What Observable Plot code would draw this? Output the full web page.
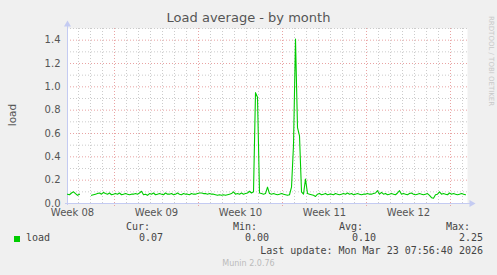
<!DOCTYPE html>
<html>
<head>
<meta charset="utf-8">
<script src="https://cdn.jsdelivr.net/npm/d3@7"></script>
<script src="https://cdn.jsdelivr.net/npm/@observablehq/plot@0.6"></script>
<style>
  html, body { margin: 0; padding: 0; background: #f0f0f0; }
  #wrap { position: relative; width: 497px; height: 275px; background: #f0f0f0; overflow: hidden; }
  #wrap svg { position: absolute; left: 0; top: 0; }
  .t { position: absolute; white-space: pre; }
  .title { font-family: "DejaVu Sans", sans-serif; font-size: 13px; color: #555; }
  .mono { font-family: "DejaVu Sans Mono", monospace; font-size: 10px; color: #444; }
  .ylab { font-family: "DejaVu Sans", sans-serif; font-size: 10.5px; color: #555; }
  .rrd { font-family: "DejaVu Sans", sans-serif; font-size: 7px; color: #c8c8c8; }
  .munin { font-family: "DejaVu Sans", sans-serif; font-size: 8px; color: #bbb; }
</style>
</head>
<body>
<div id="wrap"></div>
<script>
// ---- data ----
const seriesName = "load";
const stepHours = 4;
const startTime = Date.UTC(2026, 1, 19, 2);   // first sample
const endTime = Date.UTC(2026, 2, 24, 10);    // right edge of graph
const loadValues = [
  0.08, 0.075, 0.09, 0.10, 0.085, 0.07, 0.08,
  null, null, null, null, null,
  0.07, 0.075, 0.08, 0.085, 0.09, 0.08, 0.095, 0.085, 0.08, 0.09,
  0.075, 0.08, 0.085, 0.08, 0.09, 0.075, 0.08, 0.085, 0.08, 0.075,
  0.08, 0.08, 0.085, 0.08, 0.09, 0.105, 0.075, 0.08, 0.07, 0.085,
  0.08, 0.09, 0.075, 0.08, 0.085, 0.08, 0.075, 0.09, 0.08, 0.08,
  0.085, 0.075, 0.08, 0.09, 0.08, 0.075, 0.085, 0.08, 0.08, 0.075,
  0.085, 0.08, 0.08, 0.085, 0.09, 0.09, 0.085, 0.085, 0.08, 0.085,
  0.08, 0.08, 0.075, 0.07, 0.075, 0.07, 0.075, 0.07, 0.075, 0.08,
  0.085, 0.10, 0.08, 0.085, 0.08, 0.09, 0.08, 0.085, 0.09, 0.105,
  0.09,
  0.10, 0.95, 0.91, 0.09, 0.085, 0.08, 0.085,
  0.14,
  0.085, 0.08, 0.085, 0.08, 0.075, 0.08, 0.085, 0.08, 0.075, 0.07, 0.075,
  0.14, 0.5, 1.41, 0.65, 0.58, 0.10, 0.08,
  0.21,
  0.085, 0.08, 0.075, 0.07, 0.06, 0.08, 0.085, 0.075, 0.08, 0.085,
  0.075, 0.08, 0.08, 0.075, 0.085, 0.08, 0.075, 0.08, 0.085, 0.08,
  0.09, 0.08, 0.085, 0.075, 0.08, 0.085, 0.08, 0.075, 0.08, 0.08,
  0.085, 0.08, 0.08, 0.085, 0.09, 0.11, 0.08, 0.095, 0.08, 0.085,
  0.075, 0.08, 0.085, 0.08, 0.075, 0.09, 0.11, 0.08, 0.085, 0.08,
  0.075, 0.085, 0.09, 0.08, 0.075, 0.08, 0.085, 0.08, 0.075, 0.08,
  0.085, 0.07, 0.05, 0.045, 0.075, 0.08, 0.10, 0.08, 0.085, 0.08,
  0.075, 0.09, 0.08, 0.085, 0.08, 0.075, 0.08, 0.085, 0.08, 0.075
];
const weekLabels = ["Week 08", "Week 09", "Week 10", "Week 11", "Week 12"];
const weekStarts = [
  Date.UTC(2026, 1, 16), Date.UTC(2026, 1, 23), Date.UTC(2026, 2, 2),
  Date.UTC(2026, 2, 9), Date.UTC(2026, 2, 16), Date.UTC(2026, 2, 23)
];
const yTicks = [0, 0.2, 0.4, 0.6, 0.8, 1.0, 1.2, 1.4];
const yMinor = [0.1, 0.3, 0.5, 0.7, 0.9, 1.1, 1.3, 1.5];
const legendHeaders = ["Cur:", "Min:", "Avg:", "Max:"];
const legendValues = ["0.07", "0.00", "0.10", "2.25"];
const titleText = "Load average - by month";
const yLabel = "load";
const lastUpdate = "Last update: Mon Mar 23 07:56:40 2026";
const footer = "Munin 2.0.76";
const sideText = "RRDTOOL / TOBI OETIKER";

// ---- derived ----
const HOUR = 3600e3, DAY = 24 * HOUR;
const data = loadValues.map((v, i) => ({ t: new Date(startTime + i * stepHours * HOUR), v }));
const days = d3.range(Math.ceil((startTime) / DAY) * DAY, endTime, DAY)
  .filter(d => !weekStarts.includes(d)).map(d => new Date(d));
const weeks = weekStarts.filter(d => d >= startTime && d <= endTime).map(d => new Date(d));
const weekMids = weekStarts.slice(0, weekLabels.length).map(d => new Date(d + 3.5 * DAY));

const gridGray = "#cccccc";
const gridRed = "#e9a3a3";
const axisBlue = "#c4cbf2";

const plot = Plot.plot({
  width: 497, height: 275,
  marginLeft: 67, marginRight: 30, marginTop: 28, marginBottom: 72,
  style: { background: "transparent", fontFamily: "DejaVu Sans, sans-serif", fontSize: "10px", color: "#555" },
  x: { type: "utc", domain: [new Date(startTime), new Date(endTime)] },
  y: { domain: [0, 1.5] },
  marks: [
    Plot.frame({ fill: "white", stroke: null }),
    Plot.ruleY(yMinor, { stroke: gridGray, strokeDasharray: "1,2" }),
    Plot.ruleX(days, { stroke: gridGray, strokeDasharray: "1,2" }),
    Plot.ruleY(yTicks.filter(d => d > 0), { stroke: gridRed, strokeDasharray: "1,2" }),
    Plot.ruleX(weeks, { stroke: gridRed, strokeDasharray: "1,2", insetBottom: -3 }),
    Plot.axisY({ ticks: yTicks, tickFormat: d3.format(".1f"), tickSize: 0, tickPadding: 7, label: null, fill: "#555", fontSize: 10 }),
    Plot.axisX({ ticks: weekMids, tickFormat: (d, i) => weekLabels[i], tickSize: 0, tickPadding: 5, label: null, fill: "#555", fontSize: 10 }),
    Plot.ruleY([0], { stroke: axisBlue, insetLeft: -2, insetRight: -4 }),
    Plot.ruleX([new Date(startTime)], { stroke: axisBlue, insetTop: -4, insetBottom: -2 }),
    Plot.dot([{ x: new Date(startTime), y: 1.5 }], { x: "x", y: "y", symbol: "triangle", r: 2.6, fill: axisBlue, stroke: null, dy: -4 }),
    Plot.dot([{ x: new Date(endTime), y: 0 }], { x: "x", y: "y", symbol: "triangle", r: 2.6, fill: axisBlue, stroke: null, dx: 4, rotate: 90 }),
    Plot.line(data, { x: "t", y: "v", stroke: "#00cc00", strokeWidth: 1.1 })
  ]
});

const wrap = document.getElementById("wrap");
wrap.appendChild(plot);

function addText(txt, cls, css) {
  const d = document.createElement("div");
  d.className = "t " + cls;
  d.textContent = txt;
  Object.assign(d.style, css);
  wrap.appendChild(d);
  return d;
}
addText(titleText, "title", { left: "0px", width: "497px", textAlign: "center", top: "10px" });
addText(yLabel, "ylab", { left: "12px", top: "115px", transform: "translate(-50%,-50%) rotate(-90deg)", transformOrigin: "center" });
addText(sideText, "rrd", { left: "487px", top: "16px", writingMode: "vertical-rl" });

const headerRight = [150, 257, 363, 470];
const valueRight = [163, 269, 376, 483];
legendHeaders.forEach((h, i) => addText(h, "mono", { right: (497 - headerRight[i]) + "px", top: "221px" }));
legendValues.forEach((v, i) => addText(v, "mono", { right: (497 - valueRight[i]) + "px", top: "232px" }));
const sw = document.createElement("div");
Object.assign(sw.style, { position: "absolute", left: "14px", top: "236px", width: "6px", height: "6px", background: "#00cc00" });
wrap.appendChild(sw);
addText(seriesName, "mono", { left: "26px", top: "232px" });
addText(lastUpdate, "mono", { right: (497 - 483) + "px", top: "245px" });
addText(footer, "munin", { left: "0px", width: "497px", textAlign: "center", top: "259px" });
</script>
</body>
</html>
